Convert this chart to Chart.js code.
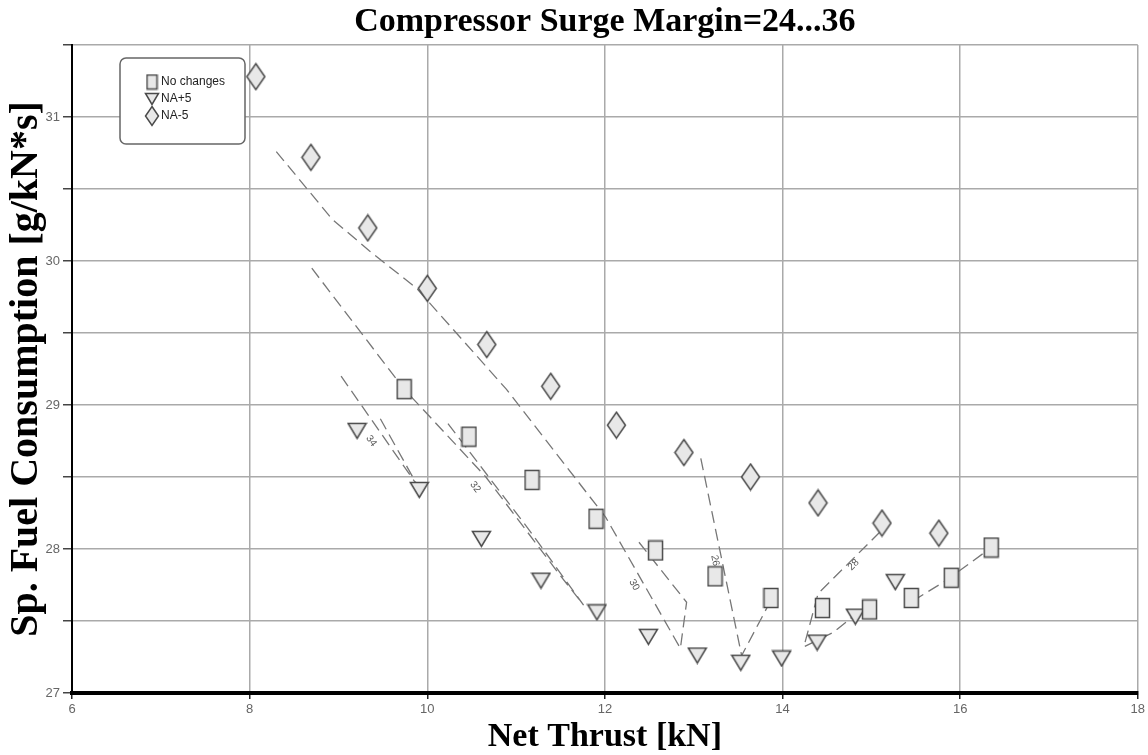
<!DOCTYPE html>
<html>
<head>
<meta charset="utf-8">
<script src="https://cdn.jsdelivr.net/npm/chart.js@4.4.1/dist/chart.umd.min.js"></script>
<style>
  body { margin: 0; background: #fff; }
</style>
</head>
<body>
<canvas id="surgeChart" width="1148" height="755"></canvas>
<script>
// measured points
const noChangesX = [9.74, 10.47, 11.18, 11.90, 12.57, 13.24, 13.87, 14.45, 14.98, 15.45, 15.90, 16.35];
const noChangesY = [29.11, 28.78, 28.48, 28.21, 27.99, 27.81, 27.66, 27.59, 27.58, 27.66, 27.80, 28.01];
const naPlus5X = [9.21, 9.91, 10.61, 11.28, 11.91, 12.49, 13.04, 13.53, 13.99, 14.39, 14.82, 15.27];
const naPlus5Y = [28.82, 28.41, 28.07, 27.78, 27.56, 27.39, 27.26, 27.21, 27.24, 27.35, 27.53, 27.77];
const naMinus5X = [8.07, 8.69, 9.33, 10.00, 10.67, 11.39, 12.13, 12.89, 13.64, 14.40, 15.12, 15.76];
const naMinus5Y = [31.28, 30.72, 30.23, 29.81, 29.42, 29.13, 28.86, 28.67, 28.50, 28.32, 28.18, 28.11];

// surge margin contour lines
const contourXs = [
    [8.30, 8.93, 9.35, 9.88, 10.89, 12.01, 12.85, 12.92, 12.38],
    [8.70, 9.74, 10.66, 11.48, 11.76, 11.15, 10.21],
    [9.03, 9.89, 9.44],
    [13.08, 13.54, 13.84],
    [15.10, 14.40, 14.24, 14.57, 14.85],
    [15.47, 15.84, 16.35]
];
const contourYs = [
    [30.76, 30.29, 30.07, 29.81, 29.11, 28.22, 27.31, 27.63, 28.05],
    [29.95, 29.11, 28.50, 27.83, 27.61, 28.13, 28.89],
    [29.20, 28.44, 28.94],
    [28.63, 27.26, 27.61],
    [28.12, 27.69, 27.32, 27.42, 27.56],
    [27.64, 27.78, 28.01]
];

// contour labels
const labelText = ['34', '32', '30', '26', '28'];
const labelX = [9.37, 10.54, 12.33, 13.24, 14.80];
const labelY = [28.75, 28.43, 27.75, 27.92, 27.89];
const labelLine = [2, 1, 0, 3, 4];

const seriesNames = ['No changes', 'NA+5', 'NA-5'];
const markerKinds = ['square', 'triangle', 'diamond'];

function makeMarker(kind, s) {
    let w = 14, h = 19;
    if (kind === 'triangle') { w = 18; h = 15; }
    if (kind === 'diamond') { w = 18; h = 26; }
    w = Math.round(w * s); h = Math.round(h * s);
    const c = document.createElement('canvas');
    c.width = w + 3; c.height = h + 3;
    const g = c.getContext('2d');
    g.fillStyle = '#e8e8e8';
    g.strokeStyle = '#4a4a4a';
    g.lineWidth = 1.5;
    g.beginPath();
    if (kind === 'square') {
        g.rect(1.5, 1.5, w, h);
    } else if (kind === 'triangle') {
        g.moveTo(1.5, 1.5);
        g.lineTo(w + 1.5, 1.5);
        g.lineTo(w / 2 + 1.5, h + 1.5);
        g.closePath();
    } else {
        g.moveTo(w / 2 + 1.5, 1.5);
        g.lineTo(w + 1.5, h / 2 + 1.5);
        g.lineTo(w / 2 + 1.5, h + 1.5);
        g.lineTo(1.5, h / 2 + 1.5);
        g.closePath();
    }
    g.fill();
    g.stroke();
    return c;
}

const toPoints = (xs, ys) => xs.map((v, i) => ({x: v, y: ys[i]}));

const markerX = [noChangesX, naPlus5X, naMinus5X];
const markerY = [noChangesY, naPlus5Y, naMinus5Y];

const datasets = seriesNames.map((name, i) => ({
    label: name,
    data: toPoints(markerX[i], markerY[i]),
    pointStyle: makeMarker(markerKinds[i], 1),
    showLine: false
}));

contourXs.forEach((xs, i) => {
    datasets.push({
        label: '',
        data: toPoints(xs, contourYs[i]),
        showLine: true,
        borderColor: '#777',
        borderWidth: 1.3,
        borderDash: [12, 6],
        pointRadius: 0,
        pointHoverRadius: 0,
        tension: 0
    });
});

const contourLabels = {
    id: 'contourLabels',
    afterDatasetsDraw(chart) {
        const {ctx} = chart;
        const xs = chart.scales.x, ys = chart.scales.y;
        ctx.save();
        ctx.font = '10px "Liberation Sans", Arial, sans-serif';
        ctx.fillStyle = '#555';
        ctx.textAlign = 'center';
        ctx.textBaseline = 'middle';
        labelText.forEach((t, i) => {
            const px = xs.getPixelForValue(labelX[i]);
            const py = ys.getPixelForValue(labelY[i]);
            const cx = contourXs[labelLine[i]], cy = contourYs[labelLine[i]];
            let best = Infinity, ang = 0;
            for (let k = 0; k < cx.length - 1; k++) {
                const ax = xs.getPixelForValue(cx[k]), ay = ys.getPixelForValue(cy[k]);
                const bx = xs.getPixelForValue(cx[k + 1]), by = ys.getPixelForValue(cy[k + 1]);
                const d = ((ax + bx) / 2 - px) ** 2 + ((ay + by) / 2 - py) ** 2;
                if (d < best) { best = d; ang = Math.atan2(by - ay, bx - ax); }
            }
            if (ang > Math.PI / 2) ang -= Math.PI;
            if (ang < -Math.PI / 2) ang += Math.PI;
            ctx.save();
            ctx.translate(px, py);
            ctx.rotate(ang);
            ctx.fillText(t, 0, 0);
            ctx.restore();
        });
        ctx.restore();
    }
};

// boxed legend in the top-left corner of the plot
const legendSmall = markerKinds.map(k => makeMarker(k, 0.72));
const boxedLegend = {
    id: 'boxedLegend',
    afterDatasetsDraw(chart) {
        const {ctx, chartArea} = chart;
        const x = chartArea.left + 48, y = chartArea.top + 13;
        ctx.save();
        ctx.fillStyle = '#fff';
        ctx.strokeStyle = '#666';
        ctx.lineWidth = 1.5;
        ctx.beginPath();
        ctx.roundRect(x, y, 125, 86, 6);
        ctx.fill();
        ctx.stroke();
        ctx.font = '12px "Liberation Sans", Arial, sans-serif';
        ctx.fillStyle = '#222';
        ctx.textBaseline = 'middle';
        seriesNames.forEach((name, i) => {
            const cy = y + 24 + i * 17;
            const img = legendSmall[i];
            ctx.drawImage(img, x + 32 - img.width / 2, cy - img.height / 2);
            ctx.fillText(name, x + 41, cy);
        });
        ctx.restore();
    }
};

new Chart(document.getElementById('surgeChart'), {
    type: 'scatter',
    data: { datasets: datasets },
    options: {
        responsive: false,
        animation: false,
        devicePixelRatio: 1,
        layout: { padding: { left: 0, right: 8, top: 0, bottom: 0 } },
        scales: {
            x: {
                type: 'linear',
                min: 6,
                max: 18,
                afterFit: scale => { scale.height = 62; },
                ticks: {
                    stepSize: 2,
                    color: '#666',
                    font: { family: '"Liberation Sans", Arial, sans-serif', size: 13 }
                },
                grid: { color: '#aaa', lineWidth: 1.5, tickLength: 6, tickColor: '#222' },
                border: { display: true, color: '#000', width: 4 },
                title: {
                    display: true,
                    text: 'Net Thrust [kN]',
                    color: '#000',
                    font: { family: '"Liberation Serif", "Times New Roman", serif', size: 34, weight: 'bold', lineHeight: 1 },
                    padding: { top: 0, bottom: 1 }
                }
            },
            y: {
                min: 27,
                max: 31.5,
                afterFit: scale => { scale.width = 72; },
                ticks: {
                    stepSize: 0.5,
                    color: '#666',
                    font: { family: '"Liberation Sans", Arial, sans-serif', size: 13 },
                    callback: v => Number.isInteger(v) ? v : ''
                },
                grid: { color: '#aaa', lineWidth: 1.5, tickLength: 9, tickColor: '#444' },
                border: { display: true, color: '#000', width: 2 },
                title: {
                    display: true,
                    text: 'Sp. Fuel Consumption [g/kN*s]',
                    color: '#000',
                    font: { family: '"Liberation Serif", "Times New Roman", serif', size: 40, weight: 'bold', lineHeight: 1.2 },
                    padding: { top: 3, bottom: 0 }
                }
            }
        },
        plugins: {
            legend: { display: false },
            tooltip: { enabled: false },
            title: {
                display: true,
                fullSize: false,
                text: 'Compressor Surge Margin=24...36',
                color: '#000',
                font: { family: '"Liberation Serif", "Times New Roman", serif', size: 34, weight: 'bold', lineHeight: 1 },
                padding: { top: 5, bottom: 6 }
            }
        }
    },
    plugins: [contourLabels, boxedLegend]
});
</script>
</body>
</html>
